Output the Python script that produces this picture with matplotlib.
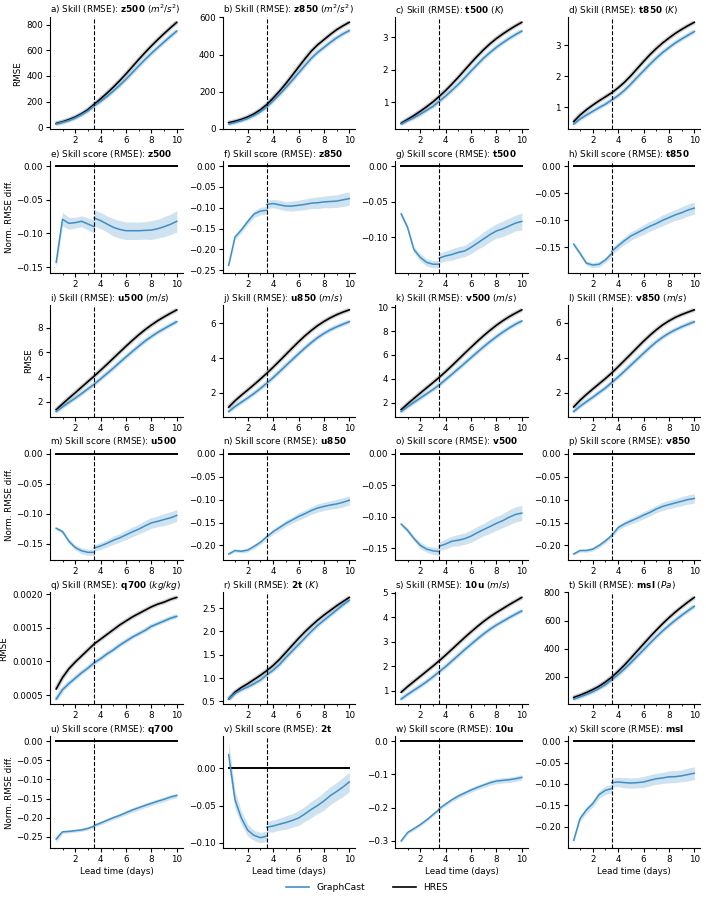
import matplotlib
matplotlib.use('Agg')
import matplotlib.pyplot as plt
from matplotlib.ticker import MultipleLocator, MaxNLocator
from matplotlib.lines import Line2D
import numpy as np

plt.rcParams['font.size'] = 6.3
plt.rcParams['axes.titlesize'] = 6.4

lead = [0.5, 1, 1.5, 2, 2.5, 3, 3.5, 4, 4.5, 5, 5.5, 6, 6.5, 7, 7.5, 8, 8.5, 9, 9.5, 10]
lead_early = lead[:7]
lead_late = lead[6:]

# ---- RMSE (HRES, GraphCast) ----
z500_hres = [30, 43, 60, 80, 106, 138, 180, 222, 266, 313, 363, 416, 472, 528, 582, 634, 683, 730, 775, 818]
z500_gc = [26, 39, 53, 73, 99, 128, 168, 202, 240, 282, 327, 375, 426, 478, 528, 576, 621, 665, 708, 750]
z850_hres = [32, 40, 50, 63, 80, 102, 130, 165, 202, 243, 287, 332, 376, 418, 452, 480, 508, 534, 555, 574]
z850_gc = [25, 33, 43, 55, 71, 91, 117, 150, 184, 221, 260, 300, 340, 379, 411, 438, 465, 490, 511, 529]
t500_hres = [0.35, 0.47, 0.59, 0.72, 0.86, 1.01, 1.18, 1.36, 1.56, 1.77, 1.99, 2.21, 2.42, 2.62, 2.80, 2.96, 3.10, 3.23, 3.35, 3.46]
t500_gc = [0.33, 0.43, 0.52, 0.63, 0.75, 0.87, 1.03, 1.19, 1.37, 1.55, 1.75, 1.96, 2.16, 2.36, 2.53, 2.69, 2.83, 2.96, 3.08, 3.19]
t850_hres = [0.54, 0.75, 0.92, 1.07, 1.21, 1.34, 1.47, 1.63, 1.81, 2.02, 2.25, 2.48, 2.70, 2.90, 3.08, 3.24, 3.39, 3.52, 3.64, 3.75]
t850_gc = [0.46, 0.62, 0.75, 0.87, 0.99, 1.10, 1.24, 1.38, 1.55, 1.75, 1.97, 2.18, 2.39, 2.59, 2.77, 2.93, 3.08, 3.21, 3.33, 3.45]
u500_hres = [1.35, 1.82, 2.28, 2.72, 3.18, 3.63, 4.08, 4.55, 5.03, 5.52, 6.01, 6.50, 6.97, 7.42, 7.84, 8.22, 8.57, 8.88, 9.17, 9.45]
u500_gc = [1.20, 1.58, 1.94, 2.29, 2.66, 3.04, 3.42, 3.85, 4.28, 4.72, 5.18, 5.63, 6.07, 6.50, 6.92, 7.28, 7.62, 7.92, 8.21, 8.49]
u850_hres = [1.18, 1.55, 1.87, 2.17, 2.48, 2.80, 3.13, 3.48, 3.84, 4.21, 4.58, 4.94, 5.28, 5.59, 5.87, 6.11, 6.32, 6.50, 6.65, 6.78]
u850_gc = [0.93, 1.22, 1.47, 1.71, 1.97, 2.26, 2.56, 2.88, 3.22, 3.57, 3.91, 4.25, 4.58, 4.89, 5.18, 5.42, 5.63, 5.80, 5.95, 6.10]
v500_hres = [1.40, 1.88, 2.34, 2.79, 3.23, 3.67, 4.12, 4.60, 5.10, 5.62, 6.14, 6.65, 7.15, 7.63, 8.08, 8.50, 8.88, 9.22, 9.52, 9.80]
v500_gc = [1.24, 1.64, 2.01, 2.37, 2.73, 3.09, 3.48, 3.93, 4.38, 4.84, 5.30, 5.77, 6.24, 6.70, 7.13, 7.54, 7.92, 8.27, 8.59, 8.86]
v850_hres = [1.20, 1.58, 1.91, 2.22, 2.52, 2.82, 3.14, 3.49, 3.85, 4.21, 4.58, 4.94, 5.28, 5.59, 5.87, 6.10, 6.30, 6.46, 6.60, 6.73]
v850_gc = [0.94, 1.24, 1.50, 1.75, 2.02, 2.28, 2.59, 2.91, 3.24, 3.58, 3.92, 4.26, 4.59, 4.90, 5.17, 5.40, 5.59, 5.76, 5.91, 6.05]
q700_hres = [0.00059, 0.00076, 0.00089, 0.00099, 0.00108, 0.00117, 0.00126, 0.00133, 0.00140, 0.00147, 0.00154, 0.00160, 0.00166, 0.00171, 0.00176, 0.00181, 0.00185, 0.00188, 0.00192, 0.00195]
q700_gc = [0.00044, 0.00058, 0.00067, 0.00075, 0.00083, 0.00090, 0.00098, 0.00104, 0.00111, 0.00117, 0.00124, 0.00130, 0.00136, 0.00141, 0.00146, 0.00152, 0.00156, 0.00160, 0.00164, 0.00167]
t2m_hres = [0.55, 0.70, 0.80, 0.88, 0.97, 1.06, 1.16, 1.27, 1.40, 1.55, 1.70, 1.85, 1.99, 2.12, 2.24, 2.35, 2.45, 2.55, 2.64, 2.73]
t2m_gc = [0.55, 0.67, 0.75, 0.81, 0.88, 0.96, 1.07, 1.17, 1.29, 1.44, 1.58, 1.72, 1.86, 2.00, 2.13, 2.24, 2.35, 2.46, 2.57, 2.67]
u10_hres = [0.93, 1.16, 1.37, 1.58, 1.79, 2.00, 2.22, 2.45, 2.69, 2.93, 3.17, 3.40, 3.62, 3.83, 4.02, 4.19, 4.35, 4.51, 4.66, 4.81]
u10_gc = [0.65, 0.84, 1.01, 1.18, 1.36, 1.56, 1.77, 1.98, 2.21, 2.44, 2.67, 2.89, 3.11, 3.32, 3.51, 3.68, 3.83, 3.98, 4.12, 4.26]
msl_hres = [52, 68, 87, 108, 132, 162, 197, 238, 283, 332, 383, 433, 483, 531, 577, 620, 660, 697, 732, 765]
msl_gc = [40, 56, 73, 92, 116, 143, 178, 215, 255, 299, 345, 391, 438, 483, 526, 565, 602, 637, 670, 702]

# ---- skill score (normalised RMSE difference), before / after 3.5 days ----
z500_ss_early = [-0.143, -0.079, -0.085, -0.084, -0.082, -0.086, -0.090]
z500_ss_late = [-0.077, -0.081, -0.086, -0.091, -0.094, -0.096, -0.096, -0.096, -0.0955, -0.095, -0.093, -0.090, -0.0865, -0.082]
z500_err_early = [0.008, 0.010, 0.009, 0.008, 0.008, 0.009, 0.010]
z500_err_late = [0.012, 0.012, 0.012, 0.013, 0.013, 0.013, 0.013, 0.013, 0.013, 0.014, 0.014, 0.015, 0.015, 0.016]
z850_ss_early = [-0.238, -0.170, -0.153, -0.133, -0.115, -0.108, -0.106]
z850_ss_late = [-0.092, -0.090, -0.093, -0.096, -0.096, -0.094, -0.092, -0.089, -0.088, -0.086, -0.085, -0.084, -0.081, -0.078]
z850_err_early = [0.006, 0.006, 0.007, 0.007, 0.008, 0.009, 0.010]
z850_err_late = [0.010, 0.010, 0.011, 0.011, 0.012, 0.012, 0.013, 0.013, 0.014, 0.014, 0.015, 0.015, 0.016, 0.016]
t500_ss_early = [-0.067, -0.086, -0.117, -0.128, -0.135, -0.1376, -0.1376]
t500_ss_late = [-0.129, -0.126, -0.124, -0.121, -0.119, -0.114, -0.108, -0.102, -0.096, -0.091, -0.088, -0.084, -0.080, -0.0776]
t500_err_early = [0.003, 0.004, 0.004, 0.005, 0.005, 0.005, 0.005]
t500_err_late = [0.007, 0.007, 0.008, 0.008, 0.008, 0.009, 0.009, 0.010, 0.010, 0.010, 0.011, 0.011, 0.011, 0.012]
t850_ss_early = [-0.144, -0.161, -0.179, -0.1825, -0.181, -0.173, -0.161]
t850_ss_late = [-0.157, -0.147, -0.1375, -0.129, -0.123, -0.117, -0.111, -0.106, -0.100, -0.095, -0.090, -0.086, -0.081, -0.0775]
t850_err_early = [0.004, 0.004, 0.004, 0.005, 0.005, 0.005, 0.006]
t850_err_late = [0.006, 0.007, 0.007, 0.008, 0.008, 0.009, 0.009, 0.009, 0.010, 0.010, 0.010, 0.011, 0.011, 0.011]
u500_ss_early = [-0.124, -0.1295, -0.1455, -0.156, -0.1615, -0.164, -0.164]
u500_ss_late = [-0.157, -0.1535, -0.149, -0.144, -0.140, -0.135, -0.130, -0.1255, -0.120, -0.115, -0.1125, -0.1095, -0.1067, -0.1027]
u500_err_early = [0.003, 0.003, 0.004, 0.004, 0.005, 0.005, 0.005]
u500_err_late = [0.005, 0.006, 0.006, 0.007, 0.007, 0.008, 0.008, 0.008, 0.009, 0.009, 0.009, 0.010, 0.010, 0.010]
u850_ss_early = [-0.2185, -0.211, -0.2126, -0.210, -0.202, -0.193, -0.181]
u850_ss_late = [-0.181, -0.170, -0.161, -0.152, -0.1445, -0.137, -0.131, -0.124, -0.1185, -0.115, -0.112, -0.1096, -0.106, -0.1015]
u850_err_early = [0.003, 0.003, 0.004, 0.004, 0.005, 0.005, 0.005]
u850_err_late = [0.005, 0.006, 0.006, 0.007, 0.007, 0.008, 0.008, 0.008, 0.009, 0.009, 0.009, 0.010, 0.010, 0.010]
v500_ss_early = [-0.112, -0.1217, -0.1347, -0.1456, -0.1516, -0.1543, -0.1555]
v500_ss_late = [-0.147, -0.1435, -0.139, -0.1375, -0.135, -0.131, -0.1255, -0.1205, -0.1157, -0.1107, -0.1064, -0.101, -0.0966, -0.0944]
v500_err_early = [0.003, 0.004, 0.004, 0.005, 0.005, 0.006, 0.006]
v500_err_late = [0.007, 0.008, 0.008, 0.009, 0.009, 0.010, 0.010, 0.010, 0.011, 0.011, 0.011, 0.012, 0.012, 0.012]
v850_ss_early = [-0.2185, -0.211, -0.211, -0.208, -0.200, -0.190, -0.178]
v850_ss_late = [-0.178, -0.161, -0.153, -0.1467, -0.1407, -0.134, -0.128, -0.1207, -0.115, -0.111, -0.1074, -0.1037, -0.100, -0.0978]
v850_err_early = [0.003, 0.003, 0.004, 0.004, 0.005, 0.005, 0.005]
v850_err_late = [0.005, 0.006, 0.006, 0.007, 0.007, 0.008, 0.008, 0.008, 0.009, 0.009, 0.009, 0.010, 0.010, 0.010]
q700_ss_early = [-0.256, -0.237, -0.236, -0.234, -0.232, -0.228, -0.222]
q700_ss_late = [-0.2205, -0.214, -0.207, -0.200, -0.194, -0.187, -0.180, -0.174, -0.168, -0.1625, -0.157, -0.152, -0.146, -0.142]
q700_err_early = [0.010, 0.004, 0.004, 0.004, 0.004, 0.004, 0.004]
q700_err_late = [0.005, 0.005, 0.005, 0.005, 0.005, 0.006, 0.006, 0.006, 0.006, 0.006, 0.006, 0.006, 0.006, 0.006]
t2m_ss_early = [0.018, -0.0424, -0.0668, -0.083, -0.090, -0.093, -0.091]
t2m_ss_late = [-0.079, -0.0774, -0.075, -0.0728, -0.070, -0.0668, -0.0613, -0.0553, -0.050, -0.044, -0.0369, -0.0313, -0.0253, -0.0184]
t2m_err_early = [0.018, 0.012, 0.009, 0.008, 0.007, 0.007, 0.007]
t2m_err_late = [0.007, 0.008, 0.008, 0.009, 0.009, 0.010, 0.010, 0.011, 0.011, 0.012, 0.012, 0.012, 0.013, 0.013]
u10_ss_early = [-0.300, -0.275, -0.263, -0.251, -0.237, -0.221, -0.205]
u10_ss_late = [-0.203, -0.189, -0.176, -0.165, -0.156, -0.147, -0.139, -0.132, -0.125, -0.120, -0.118, -0.116, -0.113, -0.109]
u10_err_early = [0.006, 0.005, 0.005, 0.005, 0.005, 0.005, 0.005]
u10_err_late = [0.006, 0.006, 0.006, 0.007, 0.007, 0.007, 0.007, 0.007, 0.008, 0.008, 0.008, 0.008, 0.008, 0.008]
msl_ss_early = [-0.232, -0.181, -0.161, -0.146, -0.125, -0.115, -0.111]
msl_ss_late = [-0.097, -0.0955, -0.097, -0.098, -0.097, -0.0955, -0.0915, -0.088, -0.086, -0.0835, -0.083, -0.081, -0.078, -0.075]
msl_err_early = [0.006, 0.007, 0.008, 0.008, 0.009, 0.010, 0.010]
msl_err_late = [0.011, 0.011, 0.012, 0.012, 0.012, 0.013, 0.013, 0.013, 0.013, 0.014, 0.014, 0.014, 0.015, 0.015]

var_names = ['z500', 'z850', 't500', 't850', 'u500', 'u850', 'v500', 'v850', 'q700', '2t', '10u', 'msl']
units = ['m^2/s^2', 'm^2/s^2', 'K', 'K', 'm/s', 'm/s', 'm/s', 'm/s', 'kg/kg', 'K', 'm/s', 'Pa']
hres_all = [z500_hres, z850_hres, t500_hres, t850_hres, u500_hres, u850_hres, v500_hres, v850_hres, q700_hres, t2m_hres, u10_hres, msl_hres]
gc_all = [z500_gc, z850_gc, t500_gc, t850_gc, u500_gc, u850_gc, v500_gc, v850_gc, q700_gc, t2m_gc, u10_gc, msl_gc]
ss_early_all = [z500_ss_early, z850_ss_early, t500_ss_early, t850_ss_early, u500_ss_early, u850_ss_early,
                v500_ss_early, v850_ss_early, q700_ss_early, t2m_ss_early, u10_ss_early, msl_ss_early]
ss_late_all = [z500_ss_late, z850_ss_late, t500_ss_late, t850_ss_late, u500_ss_late, u850_ss_late,
               v500_ss_late, v850_ss_late, q700_ss_late, t2m_ss_late, u10_ss_late, msl_ss_late]
err_early_all = [z500_err_early, z850_err_early, t500_err_early, t850_err_early, u500_err_early, u850_err_early,
                 v500_err_early, v850_err_early, q700_err_early, t2m_err_early, u10_err_early, msl_err_early]
err_late_all = [z500_err_late, z850_err_late, t500_err_late, t850_err_late, u500_err_late, u850_err_late,
                v500_err_late, v850_err_late, q700_err_late, t2m_err_late, u10_err_late, msl_err_late]

blue = '#3f8fc6'
letters = 'abcdefghijklmnopqrstuvwx'

fig, axes = plt.subplots(6, 4, figsize=(7.06, 9.05), dpi=100)
fig.subplots_adjust(left=0.071, right=0.992, top=0.981, bottom=0.063, wspace=0.3, hspace=0.285)

for i, name in enumerate(var_names):
    block, col = divmod(i, 4)
    ax_r = axes[2 * block, col]
    ax_s = axes[2 * block + 1, col]

    # skill (RMSE)
    ax_r.plot(lead, hres_all[i], color='k', lw=3.2, alpha=0.18, solid_capstyle='butt')
    ax_r.plot(lead, gc_all[i], color=blue, lw=3.2, alpha=0.25, solid_capstyle='butt')
    ax_r.plot(lead, hres_all[i], color='k', lw=1.2)
    ax_r.plot(lead, gc_all[i], color=blue, lw=1.2)
    ax_r.set_title(letters[4 * 2 * block + col] + r') Skill (RMSE): $\mathbf{' + name + r'}$ ($' + units[i] + '$)',
                   loc='left', pad=3)

    # skill score
    ee = np.array(err_early_all[i])
    el = np.array(err_late_all[i])
    se = np.array(ss_early_all[i])
    sl = np.array(ss_late_all[i])
    ax_s.plot(lead, np.zeros(len(lead)), color='k', lw=1.4)
    ax_s.fill_between(lead_early, se - ee, se + ee, color=blue, alpha=0.25, lw=0)
    ax_s.fill_between(lead_late, sl - el, sl + el, color=blue, alpha=0.25, lw=0)
    ax_s.plot(lead_early, se, color=blue, lw=1.1)
    ax_s.plot(lead_late, sl, color=blue, lw=1.1)
    ax_s.set_title(letters[4 * (2 * block + 1) + col] + r') Skill score (RMSE): $\mathbf{' + name + '}$',
                   loc='left', pad=3)
    ax_s.yaxis.set_major_locator(MaxNLocator(nbins=6, steps=[1, 2, 5, 10]))

    for ax in (ax_r, ax_s):
        ax.axvline(3.5, color='k', ls='--', lw=0.8)
        ax.set_xticks([2, 4, 6, 8, 10])
        ax.xaxis.set_minor_locator(MultipleLocator(1))
        ax.spines['top'].set_visible(False)
        ax.spines['right'].set_visible(False)
        ax.tick_params(labelsize=6.3, length=3, pad=2)
        ax.tick_params(which='minor', length=1.5)

    if col == 0:
        ax_r.set_ylabel('RMSE', labelpad=3)
        ax_s.set_ylabel('Norm. RMSE diff.', labelpad=2)
    if block == 2:
        ax_s.set_xlabel('Lead time (days)', labelpad=2)

handles = [Line2D([], [], color=blue, lw=1.2), Line2D([], [], color='k', lw=1.2)]
fig.legend(handles, ['GraphCast', 'HRES'], loc='center', bbox_to_anchor=(0.52, 0.019), ncol=2,
           frameon=False, fontsize=6.6, handlelength=2.5, columnspacing=3)

plt.savefig('out.png', dpi=100)
